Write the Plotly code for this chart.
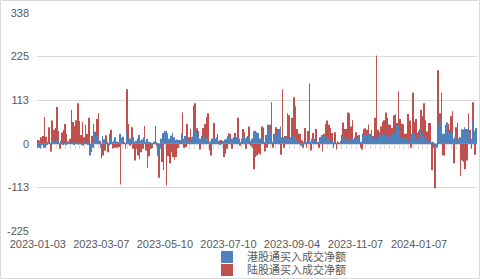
import plotly.graph_objects as go

# ---------------- data ----------------
tick_labels = ["2023-01-03", "2023-03-07", "2023-05-10", "2023-07-10",
               "2023-09-04", "2023-11-07", "2024-01-07"]
tick_index = [0, 40, 80, 120, 160, 200, 240]

# 港股通买入成交净额 (blue)
south = [
    -10, -10, -13, -3, -10, -10, -2, 3, 2, 10, 8, 5, 14, 3, 2, 8, -3, 4, -2, 3,
    5, 2, 3, -2, 4, 6, -3, 2, -4, -5, 3, 5, -2, -30, -21, -10, 31, 20, 14, 5,
    -10, 20, 12, -3, 5, -5, 18,
    3, 8, 17, 5, 3, 26, 15, 18, 2, 31, 12, 14, 14, 17, 3, 8, 14, 23, 8, 11,
    17, 5, 13, 3, 4, -3, 2, 5, 3, -32, -13, 13, 28, 33, 33, 27, 13, 21, 28, 17,
    9, 11, 10, 8, 28,
    13, 20, 14, 8, 8, 17, 19, 38, 30, 20, 14, 13, 14, 20, 13, 13, 4, 7, 14, 14,
    14, 17, 3, -2, 3, 7, 11, 13, 20, 13, 13, 13, 20, 17, 20, 14, 4, 14, 20, 14,
    17, 17, 8, 14, 33, 33, 30,
    28, 14, 14, 14, 4, 23, 38, 49, 28, 5, 26, 23, 23, 38, 45, 17, 17, 20, 14, 14,
    17, 14, 20, 17, 8, 4, 3, -5, -6, 3, 3, 4, 8, 5, 13, 13, 4, 3, 3, 17,
    23, 23, 20, 14, 14, 13,
    8, 4, 4, 2, 7, 2, 7, 20, 13, 7, 13, 8, 13, 13, 8, 17, 14, 17, 3, 5,
    26, 23, 23, 26, 20, 23, 20, 14, 14, 13, 20, 26, 23, 23, 26, 20, 17, 20, 20, 26,
    26, 47, 47, 34, 17, 17, 13,
    13, 13, 5, 17, 26, 26, 20, 13, 14, 38, 26, 17, 17, 13, 8, 7, 4, 3, -10, -10,
    26, 47, 64, 26, 26, 47, 55, 30, 34, 26, 13, 17, 13, 13, 17, 38, 37, 43, 38, 38,
    31, 13, 60, 33, 40,
]

# 陆股通买入成交净额 (red)
north = [
    10, 8, 17, 20, 69, 18, 5, 43, -20, 60, 36, 41, 95, 33, -13, 29, 36, 51, 26, 6,
    13, 87, 56, 46, 61, 105, 59, 23, 56, 17, 49, 25, 67, -10, 20, 51, 31, 64, 79, 8,
    -38, -30, -18, 22, -22, 26, 36,
    -13, -10, -10, -10, -8, -105, 15, 3, -13, 141, 51, -5, 43, -13, -43, -13, -30, -40, -22, -13,
    46, -17, -62, -32, -13, -11, 5, 46, -5, -88, -10, -47, -68, 10, -107, -32, -51, -22, -34, -41,
    -34, -11, 5, 10, 81,
    -10, -8, 51, 17, 38, 5, 98, 105, 40, 33, -15, 20, 41, 51, 69, 79, -17, -30, 5, 54,
    10, 26, 8, 10, 3, -34, -26, -13, 28, 26, -13, 17, 28, 17, 67, -5, 3, 38, 30, -13,
    20, 45, -5, -11, -66, -34, -30,
    -26, -28, 45, 42, -20, -10, 49, 49, 107, -10, 3, 43, 38, 36, -28, 141, -10, 20, 79, 74,
    14, 67, 120, 97, 38, 26, 26, 9, -10, 41, -10, 33, 156, -17, 28, 11, 38, 4, -10, 17,
    -20, 26, 51, 60, 49, 41,
    28, -10, 30, -15, 3, 2, 23, 55, 38, 38, 81, 79, 45, 61, 11, 30, 20, 23, -10, -15,
    38, 40, 36, 50, 26, 36, 20, 67, 228, 36, 30, 45, 57, 61, 81, 67, 50, 49, 41, 74,
    76, 54, 136, 64, 52, 50, 26,
    26, 77, 60, -10, 132, 57, 64, 28, 33, 88, 71, 105, 61, 32, 54, 54, -68, -10, -115, -8,
    190, 79, 132, -30, -30, 49, 51, 37, 71, 84, -51, 43, 54, 13, -84, -43, -47, -66, -43, 79,
    36, -13, 107, -28, 40,
]

y_ticks = [-225.2, -112.6, 0, 112.6, 225.2, 337.8]
y_tick_labels = ["-225", "-113", "0", "113", "225", "338"]

# ---------------- figure ----------------
n = len(north)
x = list(range(n))
FONT = "Liberation Sans, Noto Sans CJK SC, sans-serif"
GRID = "#D9D9D9"
TXT = "#595959"

fig = go.Figure()
fig.add_trace(go.Bar(
    x=x, y=north, name="陆股通买入成交净额",
    marker=dict(color="#C0504D", line=dict(width=0)),
    width=0.42, offset=-0.08, legend="legend2",
))
fig.add_trace(go.Bar(
    x=x, y=south, name="港股通买入成交净额",
    marker=dict(color="#4F81BD", line=dict(width=0)),
    width=0.4, offset=-0.46, xaxis="x2", legend="legend",
))

W, H = 480, 279
ml, mr, mt, mb = 37, 3, 13, 48
pw, ph = W - ml - mr, H - mt - mb

def px_x(p):
    return (p - ml) / pw

def px_y(p):
    return (H - mb - p) / ph

fig.update_layout(
    width=W, height=H,
    margin=dict(l=ml, r=mr, t=mt, b=mb, pad=0, autoexpand=False),
    paper_bgcolor="white", plot_bgcolor="white",
    barmode="overlay",
    font=dict(family=FONT, size=11, color=TXT),
    xaxis=dict(
        range=[-0.5, n - 0.5], tickmode="array",
        tickvals=tick_index, ticktext=tick_labels,
        showgrid=False, zeroline=False, showline=False, ticks="",
        tickfont=dict(size=11, color=TXT), ticklabelstandoff=5,
    ),
    xaxis2=dict(
        range=[-0.5, n - 0.5], overlaying="x", anchor="free", position=0.4,
        side="bottom", showgrid=False, zeroline=False,
        showline=True, linecolor=GRID, linewidth=1,
        ticks="outside", ticklen=4, tickcolor=GRID, tickwidth=1,
        tickmode="array", tickvals=[i - 0.5 for i in range(0, n + 1, 3)],
        showticklabels=False, layer="below traces",
    ),
    yaxis=dict(
        range=[-225.2, 337.8], tickmode="array",
        tickvals=y_ticks, ticktext=y_tick_labels,
        showgrid=True, gridcolor=GRID, gridwidth=1,
        zeroline=False, showline=False, ticks="",
        tickfont=dict(size=11, color=TXT), ticklabelstandoff=7,
    ),
    legend=dict(
        x=px_x(207), y=px_y(257), xanchor="left", yanchor="middle",
        bgcolor="rgba(0,0,0,0)", borderwidth=0,
        font=dict(size=11, color=TXT), itemwidth=30,
    ),
    legend2=dict(
        x=px_x(207), y=px_y(270), xanchor="left", yanchor="middle",
        bgcolor="rgba(0,0,0,0)", borderwidth=0,
        font=dict(size=11, color=TXT), itemwidth=30,
    ),
    shapes=[dict(
        type="rect", xref="paper", yref="paper",
        x0=px_x(0.5), x1=px_x(479.5), y0=px_y(278.5), y1=px_y(0.5),
        line=dict(color=GRID, width=1), fillcolor="rgba(0,0,0,0)", layer="below",
    )],
    showlegend=True,
)

fig.write_html("out.html")
